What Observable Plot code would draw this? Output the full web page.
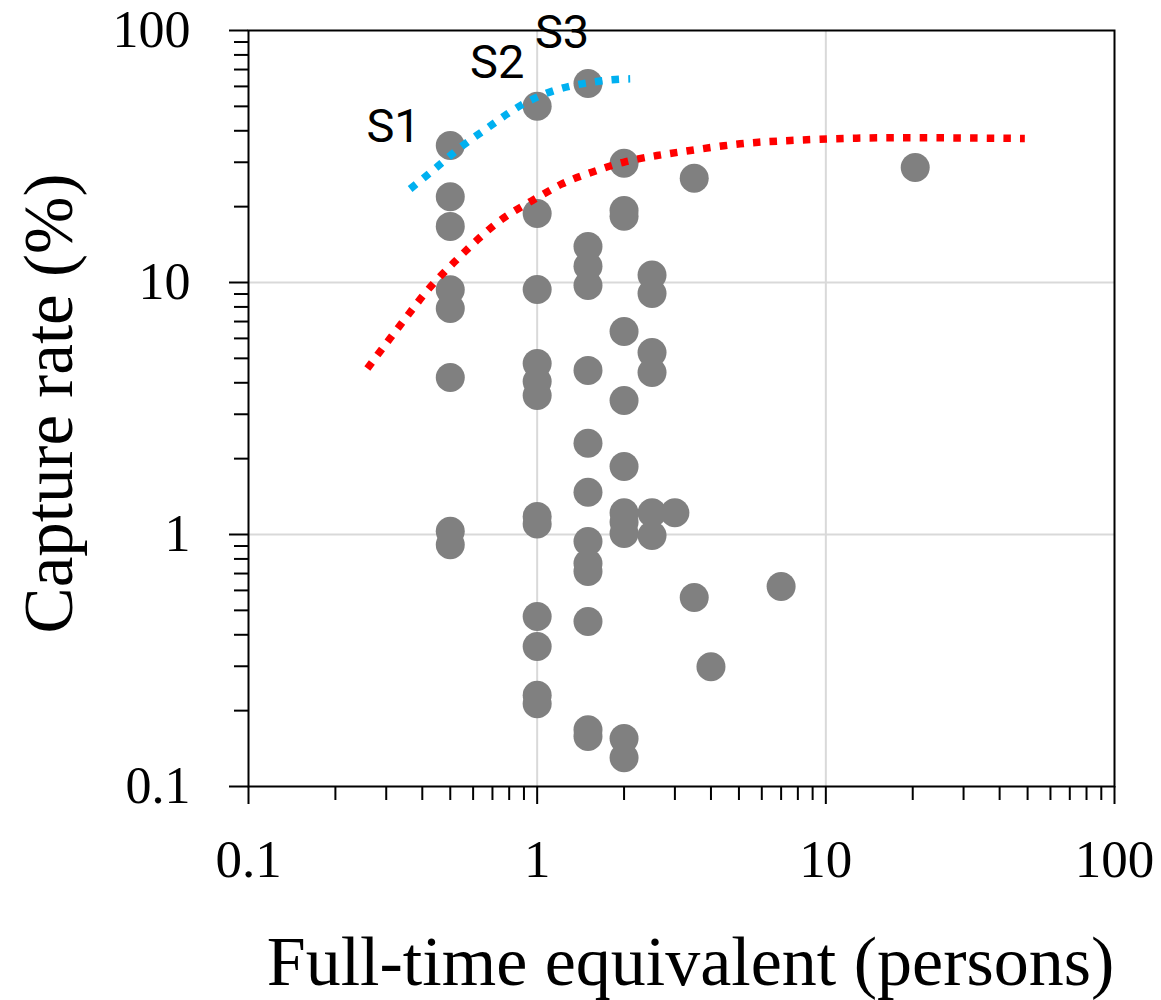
<!DOCTYPE html>
<html>
<head>
<meta charset="utf-8">
<script src="https://cdn.jsdelivr.net/npm/d3@7"></script>
<script src="https://cdn.jsdelivr.net/npm/@observablehq/plot@0.6"></script>
<style>
  html, body { margin: 0; padding: 0; background: #fff; }
</style>
</head>
<body>
<div id="chart"></div>
<script>
// ---- data ----
const pointX = [
  0.5,0.5,0.5,0.5,0.5,0.5,0.5,0.5,
  1,1,1,1,1,1,1,1,1,1,1,1,
  1.5,1.5,1.5,1.5,1.5,1.5,1.5,1.5,1.5,1.5,1.5,1.5,1.5,
  2,2,2,2,2,2,2,2,2,2,2,
  2.5,2.5,2.5,2.5,2.5,2.5,
  3,
  3.5,3.5,
  4,
  7,
  20.4
];
const pointY = [
  35.0,21.9,16.7,9.35,7.88,4.2,1.03,0.91,
  50,18.8,9.38,4.77,4.05,3.56,1.18,1.10,0.473,0.359,0.230,0.213,
  61.6,13.9,11.6,9.73,4.48,2.30,1.47,0.938,0.767,0.713,0.452,0.168,0.158,
  29.7,19.3,18.3,6.39,3.40,1.86,1.22,1.12,1.01,0.155,0.130,
  10.7,9.04,5.27,4.39,1.22,0.99,
  1.22,
  25.9,0.562,
  0.299,
  0.622,
  28.6
];

const cyanX = [0.363,0.449,0.548,0.678,0.839,1.066,1.39,1.815,2.10];
const cyanY = [23.5,28.7,34.7,41.3,48.9,56.1,61.1,63.7,64.3];

const redX = [0.258,0.309,0.363,0.428,0.516,0.618,0.764,0.959,1.218,1.547,1.99,2.60,3.39,5.05,7.52,12.8,24.9,48.9];
const redY = [4.56,5.99,7.62,9.64,12.04,14.7,18.0,21.1,24.6,27.4,30.0,31.9,33.4,35.5,36.6,37.4,37.5,37.3];

const seriesLabels = ["S1","S2","S3"];
const seriesLabelX = [0.318,0.727,1.22];
const seriesLabelY = [41.6,74.3,98];

const xMajor = [0.1,1,10,100];
const xMajorLabels = ["0.1","1","10","100"];
const yMajor = [0.1,1,10,100];
const yMajorLabels = ["0.1","1","10","100"];
const gridValues = [1,10];
const minorMultipliers = [2,3,4,5,6,7,8,9];
const decades = [0.1,1,10];

const xTitle = "Full-time equivalent (persons)";
const yTitle = "Capture rate (%)";

// ---- tables built from the arrays ----
const points = pointX.map((x,i) => ({x, y: pointY[i]}));
const cyan = cyanX.map((x,i) => ({x, y: cyanY[i]}));
const red = redX.map((x,i) => ({x, y: redY[i]}));
const labels = seriesLabels.map((t,i) => ({t, x: seriesLabelX[i], y: seriesLabelY[i]}));
const minor = decades.flatMap(d => minorMultipliers.map(m => +(d*m).toPrecision(3)));

const serif = "'Liberation Serif', 'Times New Roman', serif";
const dotted = {strokeWidth: 7.5, strokeDasharray: "7.5 9.2", strokeLinecap: "butt", strokeLinejoin: "miter", curve: "natural"};

const chart = Plot.plot({
  width: 1161,
  height: 1000,
  marginLeft: 248,
  marginRight: 47,
  marginTop: 30,
  marginBottom: 214,
  style: {fontFamily: serif, background: "#fff", color: "#000"},
  x: {type: "log", domain: [0.1, 100]},
  y: {type: "log", domain: [0.1, 100]},
  marks: [
    Plot.gridX(gridValues, {stroke: "#d9d9d9", strokeOpacity: 1, strokeWidth: 2}),
    Plot.gridY(gridValues, {stroke: "#d9d9d9", strokeOpacity: 1, strokeWidth: 2}),
    Plot.dot(points, {x: "x", y: "y", r: 14.5, fill: "#808080", stroke: "none"}),
    Plot.line(cyan, {x: "x", y: "y", stroke: "#00B0F0", ...dotted}),
    Plot.line(red, {x: "x", y: "y", stroke: "#FF0000", ...dotted}),
    Plot.frame({stroke: "#000", strokeWidth: 2}),
    Plot.axisX({ticks: minor, tickSize: 14, strokeWidth: 2, tickFormat: () => "", label: null}),
    Plot.axisY({ticks: minor, tickSize: 14, strokeWidth: 2, tickFormat: () => "", label: null}),
    Plot.axisX({ticks: xMajor, tickSize: 18, tickPadding: 35, strokeWidth: 2, fontSize: 53,
      tickFormat: (d) => xMajorLabels[xMajor.indexOf(d)], label: null}),
    Plot.axisY({ticks: yMajor, tickSize: 19, tickPadding: 39, strokeWidth: 2, fontSize: 52,
      tickFormat: (d) => yMajorLabels[yMajor.indexOf(d)], label: null}),
    Plot.text(labels, {x: "x", y: "y", text: "t", fontSize: 47, fill: "#000",
      fontFamily: "Roboto, 'Noto Sans', sans-serif", lineAnchor: "middle"}),
    Plot.text([xTitle], {frameAnchor: "bottom", textAnchor: "middle", dx: 9, dy: 176, fontSize: 70, lineAnchor: "middle", fill: "#000"}),
    Plot.text([yTitle], {frameAnchor: "left", textAnchor: "middle", dx: -199, dy: -5, rotate: -90, fontSize: 69, lineAnchor: "middle", fill: "#000"})
  ]
});
document.getElementById("chart").appendChild(chart);
</script>
</body>
</html>
